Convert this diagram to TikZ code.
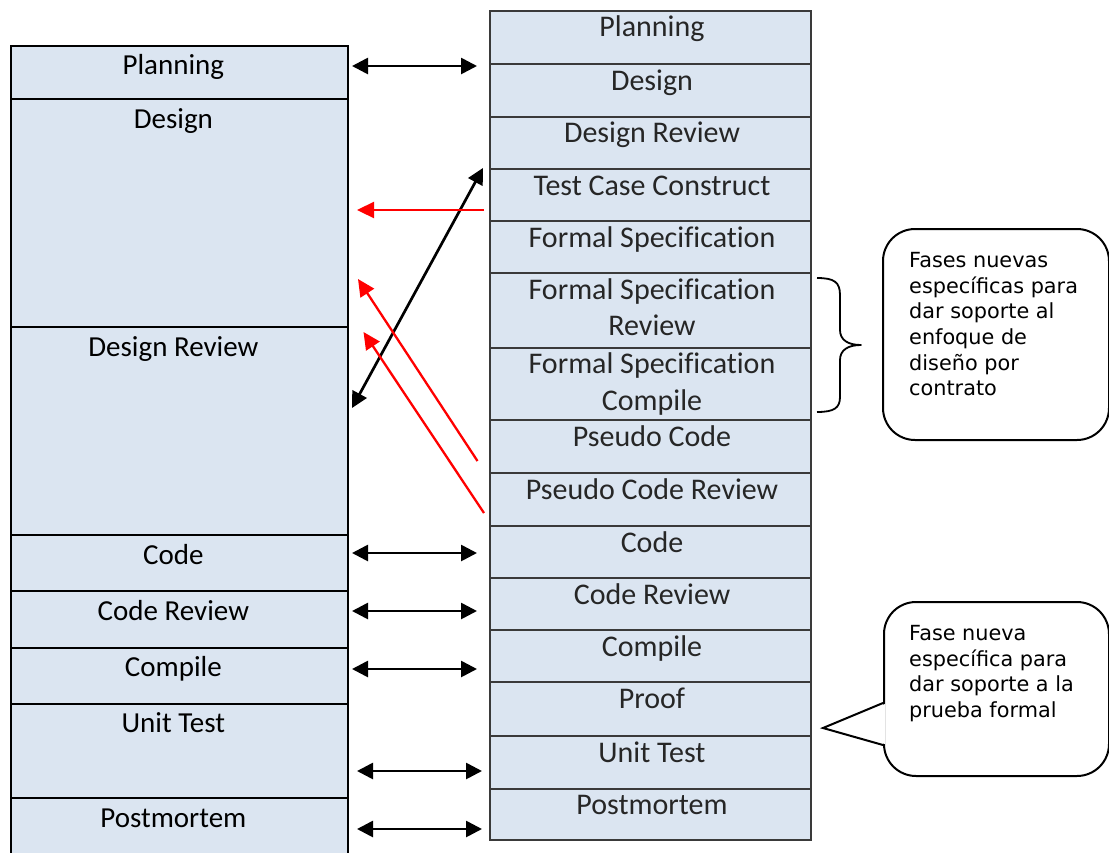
\documentclass[tikz,border=0pt]{standalone}
\usepackage{fontspec}
\setmainfont{Carlito}[Ligatures={NoCommon}]
\newfontfamily\verd{DejaVu Sans}
\usetikzlibrary{arrows.meta}
\definecolor{cellfill}{HTML}{DBE5F1}
\definecolor{rborder}{HTML}{3A3A3A}
\definecolor{rtext}{HTML}{262626}
\definecolor{redarrow}{HTML}{FF0000}
\begin{document}
\begin{tikzpicture}[x=1pt,y=-1pt,
  lcell/.style={draw=black, line width=2.4pt, fill=cellfill, minimum width=337.3pt, inner sep=0pt, outer sep=0pt},
  rcell/.style={draw=rborder, line width=2.2pt, fill=cellfill, minimum width=321pt, inner sep=0pt, outer sep=0pt},
  ltxt/.style={anchor=base, font=\fontsize{29}{35}\selectfont, inner sep=0pt},
  rtxt/.style={anchor=base, font=\fontsize{30}{36}\selectfont, text=rtext, inner sep=0pt},
  dblarrow/.style={{Triangle[length=16pt,width=16pt]}-{Triangle[length=16pt,width=16pt]}, line width=2.7pt, draw=black},
  redarr/.style={-{Triangle[length=17pt,width=16pt]}, line width=2.3pt, draw=redarrow},
  callout/.style={draw=black, line width=2pt, fill=white, rounded corners=32pt, inner sep=0pt},
  calltext/.style={anchor=north west, align=left, inner sep=0pt, font=\verd\fontsize{20.8}{25.7}\selectfont}
]
\clip (0,0) rectangle (1109,852);
\fill[white] (0,0) rectangle (1109,852);

% left column
\foreach \nm/\tp/\bt/\tx in {L1/45.7/99/Planning, L2/99/327/Design, L3/327/535/Design Review,
  L4/535/591/Code, L5/591/647.7/Code Review, L6/647.7/703.7/Compile, L7/703.7/798/Unit Test,
  L8/798/875/Postmortem}{
  \pgfmathsetmacro\hh{\bt-\tp}
  \pgfmathsetmacro\cc{(\bt+\tp)/2}
  \node[lcell, minimum height=\hh pt] (\nm) at (179.35,\cc) {};
  \node[ltxt] (\nm t) at ([xshift=-6pt,yshift=-29pt]\nm.north) {\tx};
}

% right column
\foreach \nm/\tp/\bt/\tx in {R1/10.7/64.3/Planning, R2/64.3/116.7/Design, R3/116.7/169/Design Review,
  R4/169/221/Test Case Construct, R5/221/273.3/Formal Specification, R6/273.3/347.7/Formal Specification,
  R7/347.7/420/Formal Specification, R8/420/473.3/Pseudo Code, R9/473.3/526/Pseudo Code Review,
  R10/526/578/Code, R11/578/630/Code Review, R12/630/682/Compile, R13/682/736/Proof,
  R14/736/788.7/Unit Test, R15/788.7/840/Postmortem}{
  \pgfmathsetmacro\hh{\bt-\tp}
  \pgfmathsetmacro\cc{(\bt+\tp)/2}
  \node[rcell, minimum height=\hh pt] (\nm) at (650.5,\cc) {};
  \node[rtxt] (\nm t) at ([xshift=1.5pt,yshift=-26pt]\nm.north) {\tx};
}
\node[rtxt] (R6u) at ([xshift=1.5pt,yshift=-62.5pt]R6.north) {Review};
\node[rtxt] (R7u) at ([xshift=1.5pt,yshift=-62.5pt]R7.north) {Compile};

% arrow end points
\coordinate (a1l) at (352,66);  \coordinate (a1r) at (477,66);
\coordinate (a2l) at (352,553); \coordinate (a2r) at (477,553);
\coordinate (a3l) at (352,611); \coordinate (a3r) at (477,611);
\coordinate (a4l) at (352,669); \coordinate (a4r) at (477,669);
\coordinate (a5l) at (357,771); \coordinate (a5r) at (482,771);
\coordinate (a6l) at (357,829); \coordinate (a6r) at (482,829);
\coordinate (dbl) at (352,408); \coordinate (dbr) at (483,168);
\coordinate (rh1) at (484,210); \coordinate (rh2) at (357,210);
\coordinate (rd1s) at (477.5,461); \coordinate (rd1e) at (358,279);
\coordinate (rd2s) at (484,513); \coordinate (rd2e) at (363.5,332);

\draw[dblarrow] (a1l) -- (a1r);
\draw[dblarrow] (a2l) -- (a2r);
\draw[dblarrow] (a3l) -- (a3r);
\draw[dblarrow] (a4l) -- (a4r);
\draw[dblarrow] (a5l) -- (a5r);
\draw[dblarrow] (a6l) -- (a6r);
\draw[dblarrow] (dbl) -- (dbr);
\draw[redarr] (rh1) -- (rh2);
\draw[redarr] (rd1s) -- (rd1e);
\draw[redarr] (rd2s) -- (rd2e);

% brace
\draw[line width=1.8pt, line join=round] (817,278) .. controls (834,278) and (840,282) .. (840,295)
  -- (840,330) .. controls (840,340) and (848,345) .. (861,345)
  .. controls (848,345) and (840,350) .. (840,360)
  -- (840,397) .. controls (840,408) and (834,412) .. (817,412);

% callout 1
\node[callout, minimum width=226pt, minimum height=211pt, anchor=north west] (C1) at (882,228) {};
\node[calltext] (C1t) at (909,252) {Fases nuevas\\específicas para\\dar soporte al\\enfoque de\\diseño por\\contrato};

% callout 2
\node[callout, minimum width=225pt, minimum height=174pt, anchor=north west] (C2) at (883,601) {};
\coordinate (p2a) at (883,703); \coordinate (p2tip) at (823,728); \coordinate (p2b) at (883,745);
\fill[white] (885,704) -- (p2tip) -- (885,744) -- cycle;
\draw[line width=2pt, line join=miter] (p2a) -- (p2tip) -- (p2b);
\node[calltext] (C2t) at (909,625) {Fase nueva\\específica para\\dar soporte a la\\prueba formal};
\end{tikzpicture}
\end{document}
